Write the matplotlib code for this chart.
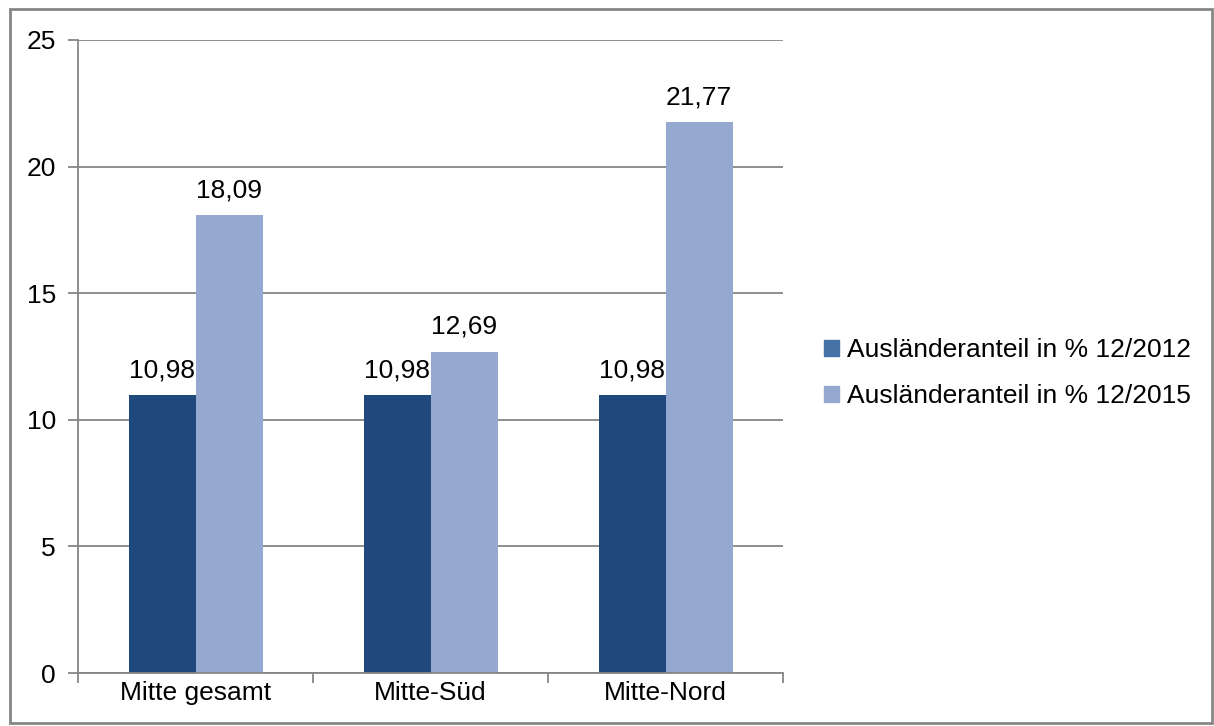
import matplotlib.pyplot as plt
from matplotlib.patches import Rectangle

plt.rcParams['font.family'] = ['Liberation Sans', 'DejaVu Sans']

categories = ['Mitte gesamt', 'Mitte-Süd', 'Mitte-Nord']
werte_2012 = [10.98, 10.98, 10.98]
werte_2015 = [18.09, 12.69, 21.77]
labels = ['Ausländeranteil in % 12/2012', 'Ausländeranteil in % 12/2015']

fs = 19

fig = plt.figure(figsize=(12.14, 7.26), dpi=100)
ax = fig.add_axes([0.0643, 0.073, 0.5807, 0.872])

x = range(len(categories))
w = 0.285
b1 = ax.bar([i - w / 2 for i in x], werte_2012, w, color='#1F497D', label=labels[0])
b2 = ax.bar([i + w / 2 for i in x], werte_2015, w, color='#95A9D0', label=labels[1])

# Wertebeschriftung über den Balken, mit Dezimalkomma
for bars, vals in ((b1, werte_2012), (b2, werte_2015)):
    for r, v in zip(bars, vals):
        ax.text(r.get_x() + r.get_width() / 2, v + 0.5, f'{v:.2f}'.replace('.', ','),
                ha='center', va='bottom', fontsize=fs)

ax.set_xlim(-0.5, 2.5)
ax.set_ylim(0, 25)
ax.set_yticks(range(0, 26, 5))
ax.set_xticks([-0.5, 0.5, 1.5, 2.5], minor=False)
ax.set_xticklabels([])
ax.set_xticks(list(x), minor=True)
ax.set_xticklabels(categories, minor=True, fontsize=fs)
ax.tick_params(axis='x', which='minor', length=0, pad=6)
ax.tick_params(axis='x', which='major', length=7, color='#868686', width=1.3)
ax.tick_params(axis='y', length=7, color='#868686', width=1.3, labelsize=fs, pad=9)
ax.yaxis.grid(True, color='#868686', linewidth=1.3)
ax.set_axisbelow(True)
for s in ('top', 'right'):
    ax.spines[s].set_visible(False)
for s in ('left', 'bottom'):
    ax.spines[s].set_color('#868686')
    ax.spines[s].set_linewidth(1.3)

handles = [Rectangle((0, 0), 1, 1, color='#4572A7'), Rectangle((0, 0), 1, 1, color='#95A9D0')]
fig.legend(handles, labels, loc='center left', bbox_to_anchor=(0.679, 0.486), frameon=False,
           fontsize=fs, handlelength=0.55, handleheight=0.55, handletextpad=0.3,
           labelspacing=0.85, borderpad=0, borderaxespad=0)

fig.patches.append(Rectangle((0.008, 0.004), 0.99, 0.983, transform=fig.transFigure,
                             fill=False, edgecolor='#868686', linewidth=2))

fig.savefig('out.png', dpi=100)
